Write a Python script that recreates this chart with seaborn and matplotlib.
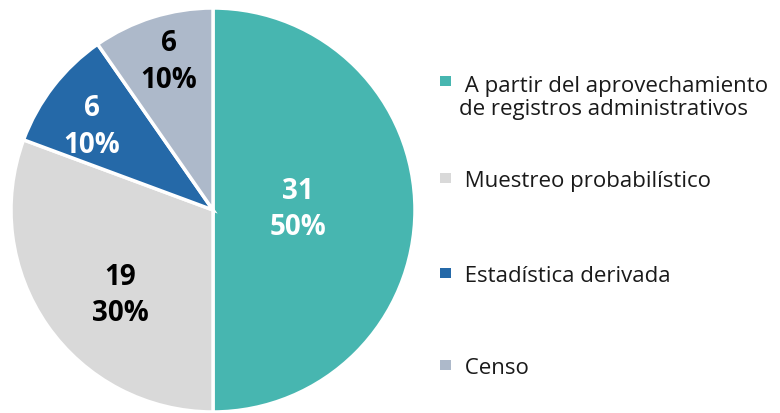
import numpy as np
import matplotlib
matplotlib.use("Agg")
import matplotlib.pyplot as plt
from matplotlib.patches import Rectangle
import seaborn as sns

# Data
categories = [
    "A partir del aprovechamiento\nde registros administrativos",
    "Muestreo probabilístico",
    "Estadística derivada",
    "Censo",
]
counts = [31, 19, 6, 6]
pct_labels = ["50%", "30%", "10%", "10%"]

colors = ["#47B6B0", "#D9D9D9", "#2569A8", "#ADB9CA"]
text_colors = ["white", "black", "white", "black"]
label_dist = [0.42, 0.62, 0.73, 0.77]
label_shift = [1, 7.5, 3, -1]  # degrees off the wedge middle

sns.set_style("white")
plt.rcParams["font.family"] = ["Open Sans", "DejaVu Sans"]

fig = plt.figure(figsize=(7.8, 4.14), dpi=100)
ax = fig.add_axes([11 / 780, 1 / 414, 404 / 780, 404 / 414])

wedges, _ = ax.pie(
    counts,
    colors=colors,
    startangle=90,
    counterclock=False,
    radius=1,
    wedgeprops=dict(edgecolor="white", linewidth=2.5),
)
ax.set_xlim(-1, 1)
ax.set_ylim(-1, 1)
ax.set_aspect("equal")
ax.axis("off")

for w, n, p, c, d, s in zip(wedges, counts, pct_labels, text_colors,
                            label_dist, label_shift):
    ang = np.deg2rad((w.theta1 + w.theta2) / 2 + s)
    ax.text(d * np.cos(ang), d * np.sin(ang), f"{n}\n{p}",
            ha="center", va="center", fontsize=20, fontweight="bold",
            color=c, linespacing=1.35)

# Legend drawn by hand (irregular spacing in the reference)
baselines = [90, 187, 282, 374]
line_gap = 25
for label, col, y in zip(categories, colors, baselines):
    fig.patches.append(Rectangle((440 / 780, 1 - (y - 3) / 414), 11 / 780, 10 / 414,
                                 transform=fig.transFigure, facecolor=col,
                                 edgecolor="none"))
    last = y + line_gap * label.count("\n")
    fig.text(459 / 780, 1 - last / 414, " " + label, ha="left", va="baseline",
             fontsize=16, color="#1a1a1a", linespacing=1.15)

fig.savefig("out.png", dpi=100)
